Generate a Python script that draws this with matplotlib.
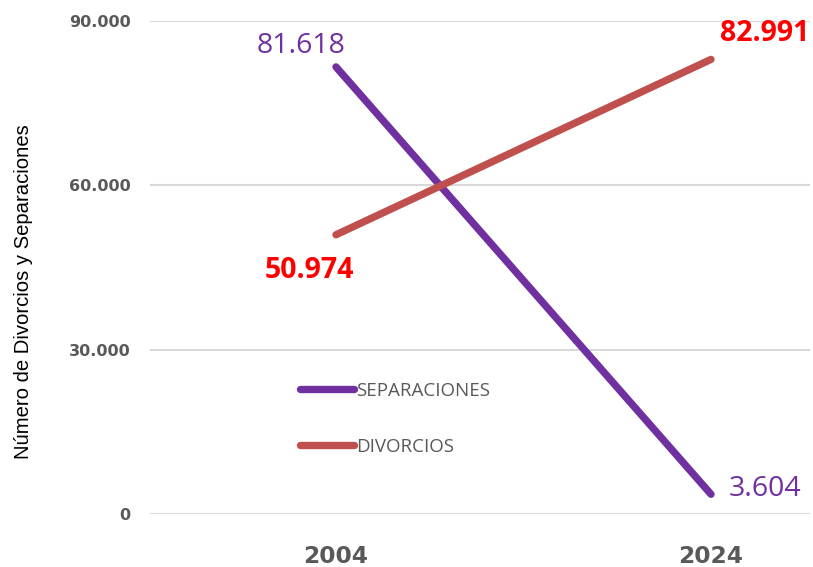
import matplotlib.pyplot as plt
from matplotlib.ticker import FuncFormatter

# datos
anios = ['2004', '2024']
separaciones = [81618, 3604]
divorcios = [50974, 82991]
yticks = [0, 30000, 60000, 90000]

def miles(v, pos=None):
    return f'{int(v):,}'.replace(',', '.')

fig = plt.figure(figsize=(8.13, 5.67), dpi=100)
ax = fig.add_axes([150/813, 53/567, 660/813, 493/567])

x = list(range(len(anios)))
ax.plot(x, separaciones, color='#7030A0', lw=5.3, solid_capstyle='round', label='SEPARACIONES', clip_on=False, zorder=3)
ax.plot(x, divorcios, color='#C0504D', lw=5.3, solid_capstyle='round', label='DIVORCIOS', clip_on=False, zorder=3)

# etiquetas de valores
ax.annotate(miles(separaciones[0]), (0, separaciones[0]), xytext=(-25, 15), textcoords='offset points',
            ha='center', va='center', fontsize=20.5, color='#7030A0', family='Open Sans')
ax.annotate(miles(separaciones[1]), (1, separaciones[1]), xytext=(39, 4), textcoords='offset points',
            ha='center', va='center', fontsize=20.5, color='#7030A0', family='Open Sans')
ax.annotate(miles(divorcios[0]), (0, divorcios[0]), xytext=(-19, -26), textcoords='offset points',
            ha='center', va='center', fontsize=20.5, color='#FF0000', fontweight='bold', family='Open Sans')
ax.annotate(miles(divorcios[1]), (1, divorcios[1]), xytext=(39, 19), textcoords='offset points',
            ha='center', va='center', fontsize=20.5, color='#FF0000', fontweight='bold', family='Open Sans')

ax.set_xlim(-0.496, 1.264)
ax.set_ylim(0, 90000)
ax.set_yticks(yticks)
ax.yaxis.set_major_formatter(FuncFormatter(miles))
ax.set_xticks(x)
ax.set_xticklabels(anios)
ax.grid(axis='y', color='#D9D9D9', lw=1.5)
ax.set_axisbelow(True)
for s in ax.spines.values():
    s.set_visible(False)
ax.tick_params(length=0)
ax.tick_params(axis='y', pad=14, labelsize=11.5, labelcolor='#595959')
ax.tick_params(axis='x', pad=22, labelsize=16.8, labelcolor='#595959')
for t in ax.get_yticklabels() + ax.get_xticklabels():
    t.set_fontweight('bold')

ax.set_ylabel('Número de Divorcios y Separaciones', fontsize=14.6, family='Liberation Sans')
ax.yaxis.set_label_coords(-0.177, 0.452)

leg = ax.legend(loc='upper left', bbox_to_anchor=(300/813, 1 - 382/567), bbox_transform=fig.transFigure,
                frameon=False, borderpad=0, borderaxespad=0, handlelength=2.9, handletextpad=0.1,
                labelspacing=2.0, prop={'family': 'Open Sans', 'size': 13.5})
for t in leg.get_texts():
    t.set_color('#595959')

fig.savefig('out.png', dpi=100)
